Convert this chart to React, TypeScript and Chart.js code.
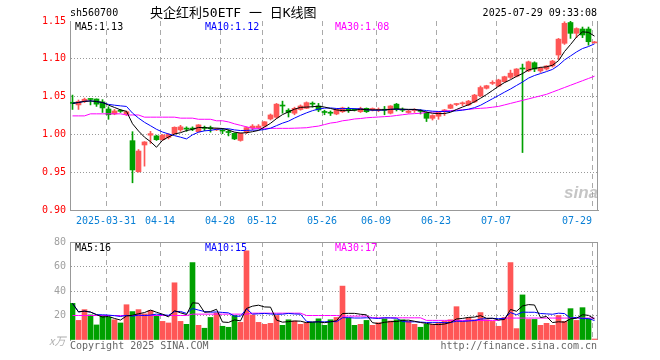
import React, { useEffect, useRef } from "react";
import { Chart, registerables } from "chart.js";

Chart.register(...registerables);

// ---------------- data ----------------
const dates = [
  "03-21", "03-24", "03-25", "03-26", "03-27", "03-28", "03-31",
  "04-01", "04-02", "04-03", "04-07", "04-08", "04-09", "04-10", "04-11", "04-14",
  "04-15", "04-16", "04-17", "04-18", "04-21", "04-22", "04-23", "04-24", "04-25", "04-28",
  "04-29", "04-30",
  "05-06", "05-07", "05-08", "05-09", "05-12",
  "05-13", "05-14", "05-15", "05-16", "05-19", "05-20", "05-21", "05-22", "05-23", "05-26",
  "05-27", "05-28", "05-29", "05-30",
  "06-03", "06-04", "06-05", "06-06", "06-09",
  "06-10", "06-11", "06-12", "06-13", "06-16", "06-17", "06-18", "06-19", "06-20", "06-23",
  "06-24", "06-25", "06-26", "06-27", "06-30",
  "07-01", "07-02", "07-03", "07-04", "07-07",
  "07-08", "07-09", "07-10", "07-11",
  "07-14", "07-15", "07-16", "07-17", "07-18",
  "07-21", "07-22", "07-23", "07-24", "07-25",
  "07-28", "07-29",
];

const opens = [
  1.0425, 1.039, 1.0435, 1.0468, 1.0468, 1.043, 1.0336, 1.027, 1.031, 1.027,
  0.9917, 0.9507, 0.986, 0.999, 0.998, 0.993, 0.996, 1.001, 1.006, 1.0075,
  1.0075, 1.0036, 1.0085, 1.008, 1.006, 1.005, 1.003, 1.0014, 0.992, 1.003,
  1.0085, 1.009, 1.011, 1.0204, 1.0226, 1.038, 1.032, 1.028, 1.033, 1.0345,
  1.0405, 1.0376, 1.0295, 1.0285, 1.027, 1.03, 1.0325, 1.0325, 1.03, 1.0345,
  1.033, 1.032, 1.0325, 1.028, 1.04, 1.0325, 1.029, 1.0315, 1.031, 1.0287,
  1.0213, 1.024, 1.031, 1.0345, 1.0395, 1.0405, 1.039, 1.043, 1.051, 1.061,
  1.0675, 1.064, 1.0697, 1.0755, 1.077, 1.087, 1.084, 1.0948, 1.084, 1.0865,
  1.0905, 1.105, 1.1205, 1.148, 1.1337, 1.1394, 1.1394, 1.121,
];
const closes = [
  1.041, 1.0435, 1.0465, 1.0462, 1.04, 1.035, 1.026, 1.031, 1.0305, 1.03,
  0.953, 0.978, 0.99, 1.001, 0.993, 0.999, 1.0, 1.0094, 1.01, 1.007,
  1.007, 1.0126, 1.008, 1.0075, 1.0065, 1.0045, 1.0025, 0.994, 1.0014, 1.009,
  1.011, 1.011, 1.0167, 1.0257, 1.04, 1.0375, 1.029, 1.0345, 1.0376, 1.042,
  1.04, 1.0323, 1.029, 1.028, 1.033, 1.035, 1.032, 1.032, 1.0345, 1.03,
  1.0335, 1.0325, 1.032, 1.0376, 1.033, 1.032, 1.031, 1.032, 1.0305, 1.0213,
  1.025, 1.029, 1.032, 1.039, 1.04, 1.041, 1.044, 1.052, 1.062, 1.0644,
  1.068, 1.072, 1.0763, 1.081, 1.0865, 1.0865, 1.096, 1.0865, 1.0875, 1.0905,
  1.097, 1.126, 1.147, 1.1337, 1.14, 1.1315, 1.1226, 1.122,
];
const highs = [
  1.052, 1.0455, 1.048, 1.047, 1.047, 1.046, 1.0366, 1.033, 1.033, 1.031,
  1.0036, 0.98, 0.9905, 1.004, 0.999, 1.0, 1.001, 1.01, 1.012, 1.01,
  1.01, 1.013, 1.011, 1.011, 1.008, 1.008, 1.006, 1.002, 1.002, 1.01,
  1.013, 1.013, 1.017, 1.027, 1.041, 1.044, 1.034, 1.036, 1.039, 1.043,
  1.043, 1.041, 1.032, 1.031, 1.034, 1.036, 1.036, 1.034, 1.036, 1.035,
  1.035, 1.035, 1.037, 1.038, 1.041, 1.035, 1.032, 1.034, 1.033, 1.03,
  1.026, 1.03, 1.033, 1.04, 1.041, 1.043, 1.045, 1.053, 1.064, 1.065,
  1.071, 1.073, 1.077, 1.085, 1.087, 1.093, 1.097, 1.096, 1.089, 1.091,
  1.098, 1.127, 1.149, 1.151, 1.141, 1.142, 1.142, 1.123,
];
const lows = [
  1.033, 1.033, 1.042, 1.039, 1.037, 1.029, 1.02, 1.026, 1.029, 1.025,
  0.936, 0.95, 0.958, 0.988, 0.992, 0.992, 0.994, 1.0, 1.004, 1.004,
  1.005, 1.003, 1.005, 1.003, 1.005, 1.001, 0.998, 0.993, 0.991, 1.001,
  1.006, 1.007, 1.01, 1.019, 1.021, 1.028, 1.023, 1.026, 1.032, 1.034,
  1.036, 1.03, 1.026, 1.025, 1.026, 1.029, 1.029, 1.031, 1.029, 1.029,
  1.031, 1.03, 1.026, 1.027, 1.031, 1.03, 1.028, 1.029, 1.027, 1.017,
  1.019, 1.02, 1.025, 1.034, 1.038, 1.038, 1.038, 1.042, 1.05, 1.06,
  1.066, 1.063, 1.069, 1.074, 1.076, 0.976, 1.083, 1.083, 1.082, 1.085,
  1.089, 1.099, 1.119, 1.127, 1.128, 1.128, 1.118, 1.121,
];

// volume, in 10k shares (万)
const volumes = [
  29.9, 16.0, 24.8, 20.5, 12.3, 20.0, 18.7, 16.5, 13.9, 28.8,
  23.2, 24.8, 21.3, 24.0, 20.0, 15.2, 13.9, 46.7, 15.2, 12.8,
  63.2, 12.0, 9.6, 18.4, 22.1, 11.2, 10.4, 20.0, 14.4, 72.8,
  20.5, 14.4, 12.8, 13.6, 20.0, 12.0, 16.5, 15.5, 12.8, 14.1,
  14.4, 17.3, 12.0, 16.5, 18.4, 44.0, 17.9, 12.0, 12.8, 16.0,
  12.0, 14.1, 17.3, 15.5, 16.5, 16.5, 15.2, 12.8, 10.4, 12.8,
  12.8, 14.1, 15.2, 16.5, 27.2, 15.2, 18.1, 16.5, 22.4, 16.5,
  15.2, 11.2, 18.4, 63.2, 9.3, 36.8, 16.8, 16.8, 12.0, 13.6,
  12.0, 20.0, 15.2, 25.6, 16.0, 26.4, 17.3, 0.8,
];

// 30-day averages (their history starts before the window)
const priceMA30 = [
  1.0245, 1.0245, 1.0245, 1.0272, 1.0272, 1.0272, 1.0272, 1.0272, 1.0272, 1.0257,
  1.0257, 1.0257, 1.0228, 1.0228, 1.0228, 1.0228, 1.0228, 1.0228, 1.0215, 1.0215,
  1.0215, 1.02, 1.02, 1.02, 1.018, 1.018, 1.0165, 1.014, 1.012, 1.01,
  1.008, 1.008, 1.008, 1.008, 1.008, 1.008, 1.008, 1.0082, 1.0085, 1.0088,
  1.01, 1.011, 1.013, 1.015, 1.016, 1.018, 1.019, 1.0204, 1.021, 1.022,
  1.0225, 1.023, 1.0235, 1.024, 1.025, 1.026, 1.027, 1.0275, 1.028, 1.029,
  1.0295, 1.03, 1.031, 1.0315, 1.032, 1.0325, 1.033, 1.034, 1.0345, 1.035,
  1.036, 1.037, 1.039, 1.041, 1.043, 1.045, 1.047, 1.049, 1.051, 1.053,
  1.056, 1.059, 1.062, 1.065, 1.068, 1.071, 1.074, 1.077,
];
const volumeMA30 = [
  20.0, 20.0, 20.0, 20.0, 20.0, 20.0, 20.0, 20.0, 20.0, 20.0,
  20.0, 20.0, 20.0, 20.0, 20.0, 20.0, 20.0, 20.0, 20.0, 20.0,
  21.1, 21.1, 21.1, 21.1, 21.1, 21.1, 21.1, 21.1, 21.1, 21.1,
  21.9, 21.9, 21.9, 21.9, 21.9, 21.9, 21.9, 21.9, 21.9, 20.0,
  20.0, 20.0, 20.0, 20.0, 20.0, 19.5, 19.5, 19.5, 19.5, 19.5,
  18.1, 18.1, 18.1, 18.1, 18.1, 18.1, 18.1, 18.1, 18.1, 16.0,
  16.0, 16.0, 16.0, 16.0, 16.0, 16.0, 16.0, 16.0, 16.0, 16.0,
  16.0, 16.0, 17.9, 17.9, 17.9, 17.9, 17.9, 17.9, 17.9, 17.9,
  17.9, 17.9, 17.9, 17.9, 17.9, 17.9, 17.9, 17.9,
];

const xTickLabels = ["2025-03-31", "04-14", "04-28", "05-12", "05-26", "06-09", "06-23", "07-07", "07-29"];
const priceTicks = [0.9, 0.95, 1.0, 1.05, 1.1, 1.15];
const volumeTicks = [0, 20, 40, 60, 80];

const titleCode = "sh560700";
const titleName = "央企红利50ETF 一 日K线图";
const timestamp = "2025-07-29 09:33:08";
const priceLegend = ["MA5:1.13", "MA10:1.12", "MA30:1.08"];
const volumeLegend = ["MA5:16", "MA10:15", "MA30:17"];

// ---------------- styling ----------------
const UP = "#ff5656";
const DOWN = "#00a000";
const MA_COLORS = ["#000000", "#0000ff", "#ff00ff"];
const AXIS = "#999999";
const GRID = "#aaaaaa";
const DATE_BLUE = "#0a80d6";
const MONO = "'DejaVu Sans Mono', 'Liberation Mono', monospace";
const SLOT = 2.5 / 6; // centre of each trading-day slot, snapped to the pixel grid

function movingAverage(values: number[], n: number): number[] {
  return values.map((_, i) => {
    const w = values.slice(Math.max(0, i - n + 1), i + 1);
    return w.reduce((a, b) => a + b, 0) / w.length;
  });
}

const tickIndex = xTickLabels.map((l) => dates.indexOf(l.slice(-5)));
function tickText(v: number): string {
  const k = tickIndex.indexOf(Math.round(v));
  if (k < 0) return "";
  const s = xTickLabels[k];
  // last label sits left of its grid line, as in the original
  return k === xTickLabels.length - 1 ? s + " ".repeat(s.length) : s;
}

const barColors = closes.map((c, i) => (c >= opens[i] ? UP : DOWN));

function xScale(showLabels: boolean, height: number) {
  return {
    type: "linear",
    min: 0,
    max: dates.length,
    offset: false,
    afterBuildTicks: (s: any) => {
      s.ticks = tickIndex.map((v) => ({ value: v }));
    },
    afterFit: (s: any) => {
      s.height = height;
    },
    grid: { offset: false, color: GRID, lineWidth: 1, drawTicks: false },
    border: { display: true, color: AXIS, dash: [5, 4] },
    ticks: {
      display: showLabels,
      autoSkip: false,
      maxRotation: 0,
      minRotation: 0,
      padding: 5,
      color: DATE_BLUE,
      font: { family: MONO, size: 10 },
      callback: (v: any) => tickText(Number(v)),
    },
  };
}

const framePlugin = {
  id: "frame",
  beforeDatasetsDraw(chart: any) {
    const { ctx, chartArea: a } = chart;
    ctx.save();
    ctx.strokeStyle = AXIS;
    ctx.lineWidth = 1;
    ctx.beginPath();
    const x = Math.round(a.right) - 0.5;
    ctx.moveTo(x, a.top);
    ctx.lineTo(x, a.bottom);
    ctx.stroke();
    ctx.restore();
  },
};

function lineDataset(label: string, values: number[], color: string) {
  return {
    type: "line",
    label,
    data: values.map((y, i) => ({ x: i + SLOT, y })),
    borderColor: color,
    borderWidth: 1,
    pointRadius: 0,
    tension: 0,
    fill: false,
    order: 0,
  };
}

function priceConfig(): any {
  const ma5 = movingAverage(closes, 5);
  const ma10 = movingAverage(closes, 10);
  return {
    type: "bar",
    data: {
      datasets: [
        lineDataset("MA5", ma5, MA_COLORS[0]),
        lineDataset("MA10", ma10, MA_COLORS[1]),
        lineDataset("MA30", priceMA30, MA_COLORS[2]),
        {
          type: "bar",
          label: "body",
          data: opens.map((o, i) => ({ x: i + SLOT, y: [o, closes[i]] })),
          backgroundColor: barColors,
          barThickness: 5,
          minBarLength: 1,
          grouped: false,
          order: 1,
        },
        {
          type: "bar",
          label: "wick",
          data: lows.map((l, i) => ({ x: i + SLOT, y: [l, highs[i]] })),
          backgroundColor: barColors,
          barThickness: 1,
          grouped: false,
          order: 2,
        },
      ],
    },
    options: {
      animation: false,
      responsive: true,
      maintainAspectRatio: false,
      layout: { padding: { left: 0, right: 62, top: 21, bottom: 0 } },
      plugins: { legend: { display: false }, tooltip: { enabled: false } },
      scales: {
        x: xScale(true, 22),
        y: {
          type: "linear",
          min: 0.9,
          max: 1.15,
          beginAtZero: false,
          afterBuildTicks: (s: any) => {
            s.ticks = priceTicks.map((v) => ({ value: v }));
          },
          afterFit: (s: any) => {
            s.width = 70;
          },
          grid: {
            drawTicks: false,
            color: (c: any) =>
              c.tick && (c.tick.value < 0.91 || c.tick.value > 1.14) ? "rgba(0,0,0,0)" : AXIS,
          },
          border: { display: true, color: AXIS, dash: [1, 2] },
          ticks: {
            padding: 4,
            color: "#ff0000",
            font: { family: MONO, size: 10 },
            callback: (v: any) => Number(v).toFixed(2),
          },
        },
      },
    },
    plugins: [framePlugin],
  };
}

function volumeConfig(): any {
  const ma5 = movingAverage(volumes, 5);
  const ma10 = movingAverage(volumes, 10);
  return {
    type: "bar",
    data: {
      datasets: [
        lineDataset("MA5", ma5, MA_COLORS[0]),
        lineDataset("MA10", ma10, MA_COLORS[1]),
        lineDataset("MA30", volumeMA30, MA_COLORS[2]),
        {
          type: "bar",
          label: "volume",
          data: volumes.map((v, i) => ({ x: i + SLOT, y: v })),
          backgroundColor: barColors,
          barThickness: 5,
          grouped: false,
          order: 1,
        },
      ],
    },
    options: {
      animation: false,
      responsive: true,
      maintainAspectRatio: false,
      layout: { padding: { left: 0, right: 62, top: 8, bottom: 0 } },
      plugins: { legend: { display: false }, tooltip: { enabled: false } },
      scales: {
        x: { ...xScale(false, 20), border: { display: false, dash: [5, 4] } },
        y: {
          type: "linear",
          min: 0,
          max: 80,
          afterBuildTicks: (s: any) => {
            s.ticks = volumeTicks.map((v) => ({ value: v }));
          },
          afterFit: (s: any) => {
            s.width = 70;
          },
          grid: {
            drawTicks: false,
            color: (c: any) => (c.tick && c.tick.value === 0 ? "rgba(0,0,0,0)" : AXIS),
          },
          border: {
            display: true,
            color: AXIS,
            dash: (c: any) => (c.tick && c.tick.value === 80 ? [] : [1, 2]),
          },
          ticks: {
            padding: 4,
            color: "#a0a0a0",
            font: { family: MONO, size: 10 },
            callback: (v: any) => (Number(v) === 0 ? "" : String(v)),
          },
        },
      },
    },
    plugins: [framePlugin],
  };
}

function Label(props: {
  x?: number;
  right?: number;
  y: number;
  text: string;
  color?: string;
  size?: number;
  family?: string;
  style?: React.CSSProperties;
}) {
  const size = props.size ?? 10;
  const st: React.CSSProperties = {
    position: "absolute",
    top: props.y,
    fontFamily: props.family ?? MONO,
    fontSize: size,
    lineHeight: `${size}px`,
    color: props.color ?? "#000",
    whiteSpace: "pre",
    ...props.style,
  };
  if (props.right !== undefined) st.right = props.right;
  else st.left = props.x;
  return <div style={st}>{props.text}</div>;
}

export default function App() {
  const priceRef = useRef<HTMLCanvasElement>(null);
  const volRef = useRef<HTMLCanvasElement>(null);

  useEffect(() => {
    const c1 = new Chart(priceRef.current as HTMLCanvasElement, priceConfig());
    const c2 = new Chart(volRef.current as HTMLCanvasElement, volumeConfig());
    return () => {
      c1.destroy();
      c2.destroy();
    };
  }, []);

  return (
    <div style={{ position: "absolute", left: 0, top: 0, width: 660, height: 360, background: "#fff", overflow: "hidden" }}>
      <div style={{ position: "absolute", left: 0, top: 0, width: 660, height: 232 }}>
        <canvas ref={priceRef} />
      </div>
      <div style={{ position: "absolute", left: 0, top: 232, width: 660, height: 128 }}>
        <canvas ref={volRef} />
      </div>

      <Label x={70} y={8} text={titleCode} />
      <Label x={150} y={6} size={13} text={titleName} family={`${MONO.split(",")[0]}, 'Noto Sans CJK SC', sans-serif`} />
      <Label right={63} y={8} text={timestamp} />

      <Label x={75} y={22} text={priceLegend[0]} color={MA_COLORS[0]} />
      <Label x={205} y={22} text={priceLegend[1]} color={MA_COLORS[1]} />
      <Label x={335} y={22} text={priceLegend[2]} color={MA_COLORS[2]} />

      <Label x={75} y={243} text={volumeLegend[0]} color={MA_COLORS[0]} />
      <Label x={205} y={243} text={volumeLegend[1]} color={MA_COLORS[1]} />
      <Label x={335} y={243} text={volumeLegend[2]} color={MA_COLORS[2]} />

      <Label x={49} y={335} size={11} text="x万" color="#b0b0b0" style={{ fontStyle: "italic" }} family="'Noto Sans CJK SC', sans-serif" />
      <Label x={70} y={341} text="Copyright 2025 SINA.COM" color="#666" />
      <Label right={63} y={341} text="http://finance.sina.com.cn" color="#666" />

      <Label x={564} y={184} size={17} text="sina" color="rgba(150,150,150,0.55)" family="'Liberation Sans', Arial, sans-serif" style={{ fontStyle: "italic", fontWeight: "bold" }} />
    </div>
  );
}
